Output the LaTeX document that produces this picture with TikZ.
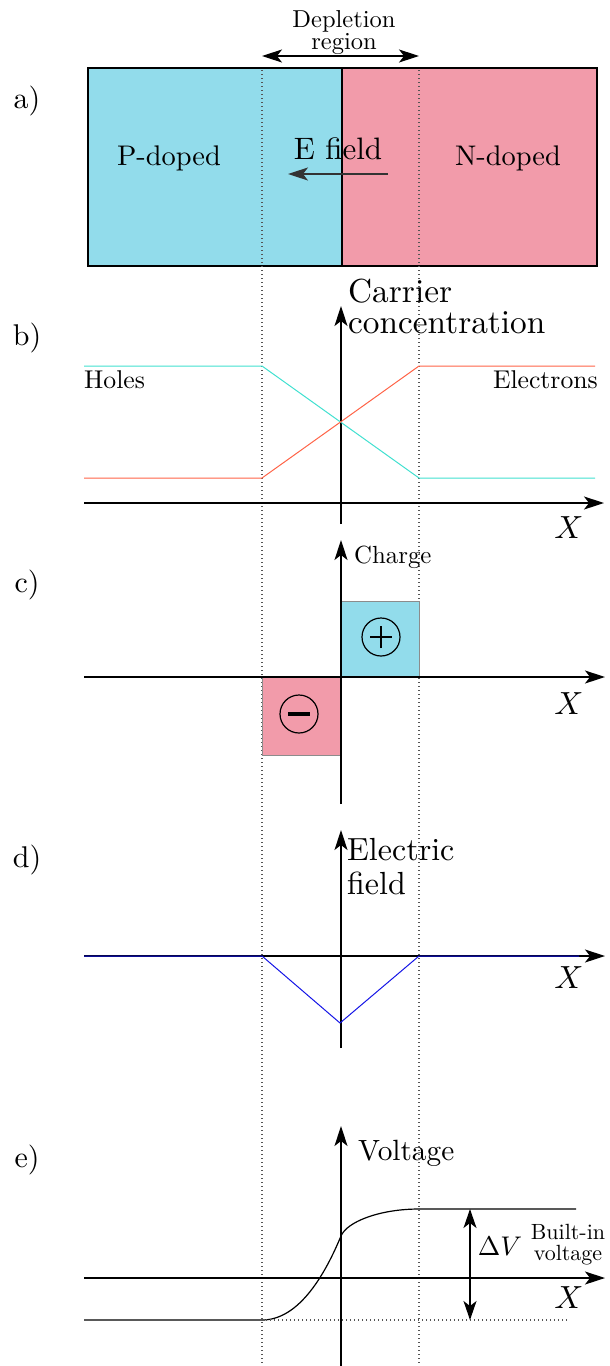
\documentclass[tikz,border=0pt]{standalone}
\usepackage{graphicx}
\usepackage{fontspec}
\setmainfont{lmroman10-regular}[Extension=.otf,ItalicFont=lmroman10-italic,BoldFont=lmroman10-bold]
\usetikzlibrary{arrows.meta}
\definecolor{pcol}{HTML}{92DCEB}
\definecolor{ncol}{HTML}{F29BAA}
\definecolor{holecol}{HTML}{40E0D0}
\definecolor{eleccol}{HTML}{FF6347}
\definecolor{fieldcol}{HTML}{1414E6}
\definecolor{dotcol}{HTML}{555555}
\newcommand{\fsz}[2]{\fontsize{#1}{#2}\selectfont}
\newcommand{\bigX}{\scalebox{3.2}{$X$}}
\begin{document}
\begin{tikzpicture}[x=1pt,y=-1pt,
  axisarrow/.style={line width=1.3pt,-{Stealth[length=20pt,width=13pt,inset=5pt]}},
  dblarrow/.style={line width=1.3pt,{Stealth[length=19pt,width=13pt,inset=5pt]}-{Stealth[length=19pt,width=13pt,inset=5pt]}},
  depline/.style={line width=1.2pt,dotcol,dash pattern=on 1.4pt off 2.6pt},
  curve/.style={line width=1pt},
  lbl/.style={inner sep=0pt},
  panel/.style={inner sep=0pt,font=\fsz{30}{30}},
  xlab/.style={inner sep=0pt,anchor=base,font=\fsz{10}{12}}]
\useasboundingbox (0,0) rectangle (610,1366);
% ---------- panel labels
\node[panel] (la) at (27,101) {a)};
\node[panel] (lb) at (27,338) {b)};
\node[panel] (lc) at (27,585) {c)};
\node[panel] (ld) at (27,860) {d)};
\node[panel] (le) at (27,1160) {e)};
% ---------- a) junction
\fill[pcol] (88,68) rectangle (342,266);
\fill[ncol] (342,68) rectangle (597,266);
\draw[line width=1.1pt] (88,68) rectangle (597,266);
\draw[line width=1.1pt] (342,68) -- (342,266);
\node[lbl,anchor=base,font=\fsz{28.4}{28}] (pdop) at (169,165) {P-doped};
\node[lbl,anchor=base,font=\fsz{28.4}{28}] (ndop) at (508,165) {N-doped};
\node[lbl,anchor=base,font=\fsz{31}{31}] (ef) at (338,159) {E field};
\coordinate (efa) at (388,174);
\coordinate (efb) at (288,174);
\draw[line width=1.4pt,black!80,-{Stealth[length=20pt,width=13pt,inset=5pt]}] (efa) -- (efb);
% depletion boundaries
\coordinate (dl0) at (262,70);
\coordinate (dl1) at (262,1366);
\coordinate (dr0) at (419,70);
\coordinate (dr1) at (419,1366);
\draw[depline] (dl0) -- (dl1);
\draw[depline] (dr0) -- (dr1);
\coordinate (dal) at (262,56);
\coordinate (dar) at (419,56);
\draw[line width=1.1pt,{Stealth[length=20pt,width=13pt,inset=5pt]}-{Stealth[length=20pt,width=13pt,inset=5pt]}] (dal) -- (dar);
\node[lbl,anchor=north,align=center,font=\fsz{24.5}{22}] (dep) at (344,10) {Depletion\\region};
% ---------- b) carrier concentration
\coordinate (bx0) at (84,503);
\coordinate (bx1) at (604,503);
\coordinate (by0) at (341,524);
\coordinate (by1) at (341,306);
\draw[axisarrow] (bx0) -- (bx1);
\draw[axisarrow] (by0) -- (by1);
\draw[curve,holecol] (84,366) -- (262,366) -- (419,478) -- (595,478);
\draw[curve,eleccol] (84,478) -- (262,478) -- (419,366) -- (595,366);
\node[lbl,anchor=base west,font=\fsz{25.7}{25.7}] (holes) at (84,388) {Holes};
\node[lbl,anchor=base east,font=\fsz{25.7}{25.7}] (elec) at (598,388) {Electrons};
\node[lbl,anchor=north west,align=left,font=\fsz{33.3}{31}] (cc) at (348,279) {Carrier\\concentration};
\node[xlab] (xb) at (569,538) {\bigX};
% ---------- c) charge
\coordinate (cx0) at (84,677);
\coordinate (cx1) at (605,677);
\coordinate (cy0) at (341,804);
\coordinate (cy1) at (341,540);
\draw[fill=pcol,draw=black!45,line width=0.8pt] (341,601) rectangle (419,677);
\draw[fill=ncol,draw=black!45,line width=0.8pt] (262,677) rectangle (341,755);
\draw[axisarrow] (cx0) -- (cx1);
\draw[axisarrow] (cy0) -- (cy1);
\node[circle,draw,line width=1.2pt,minimum size=38pt,inner sep=0pt] (plus) at (381,637) {};
\draw[line width=2pt] ([xshift=-11pt]plus.center) -- ([xshift=11pt]plus.center);
\draw[line width=2pt] ([yshift=-11pt]plus.center) -- ([yshift=11pt]plus.center);
\node[circle,draw,line width=1.2pt,minimum size=38pt,inner sep=0pt] (minus) at (299,714) {};
\draw[line width=4pt] ([xshift=-11pt]minus.center) -- ([xshift=11pt]minus.center);
\node[lbl,anchor=base west,font=\fsz{24.8}{25}] (charge) at (354,563) {Charge};
\node[xlab] (xc) at (569,714) {\bigX};
% ---------- d) electric field
\coordinate (dx0) at (84,956);
\coordinate (dx1) at (605,956);
\coordinate (dy0) at (341,1048);
\coordinate (dy1) at (341,830);
\draw[axisarrow] (dx0) -- (dx1);
\draw[axisarrow] (dy0) -- (dy1);
\draw[curve,fieldcol] (84,956) -- (262,956) -- (340,1023) -- (419,956) -- (579,956);
\node[lbl,anchor=north west,align=left,font=\fsz{32}{34}] (efl) at (347,838) {Electric\\field};
\node[xlab] (xd) at (569,988) {\bigX};
% ---------- e) voltage
\coordinate (ex0) at (84,1278);
\coordinate (ex1) at (605,1278);
\coordinate (ey0) at (341,1366);
\coordinate (ey1) at (341,1126);
\draw[axisarrow] (ex0) -- (ex1);
\draw[axisarrow] (ey0) -- (ey1);
\coordinate (vlo) at (262,1320);
\coordinate (vmid) at (341,1236);
\coordinate (vhi) at (419,1209);
\draw[curve,line width=1.2pt] (84,1320) -- (vlo)
  .. controls (300,1320) and (326,1272) .. (vmid)
  .. controls (347,1221.6) and (380,1209) .. (vhi) -- (576,1209);
\coordinate (dotend) at (567,1320);
\draw[depline] (vlo) -- (dotend);
\coordinate (dvt) at (470,1209);
\coordinate (dvb) at (470,1320);
\draw[dblarrow] (dvt) -- (dvb);
\node[lbl,anchor=base,font=\fsz{10}{12}] (dv) at (500,1255) {\scalebox{2.7}{$\Delta V$}};
\node[lbl,anchor=north,align=center,font=\fsz{22}{21}] (biv) at (568,1224) {Built-in\\voltage};
\node[lbl,anchor=base west,font=\fsz{29.3}{29}] (volt) at (358,1160) {Voltage};
\node[xlab] (xe) at (569,1308) {\bigX};
\end{tikzpicture}
\end{document}
